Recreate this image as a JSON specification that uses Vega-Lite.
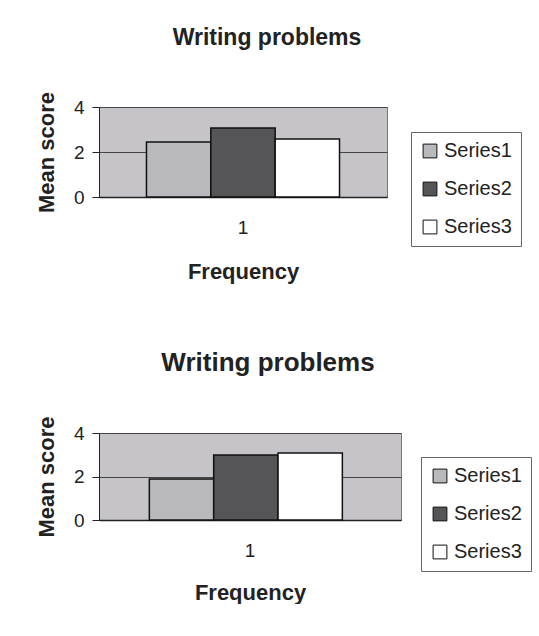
{
  "$schema": "https://vega.github.io/schema/vega-lite/v6.json",
  "padding": {"left": 34, "top": 26, "right": 0, "bottom": 0},
  "spacing": 66,
  "datasets": {
    "top": [
      {"Frequency": "1", "series": "Series1", "score": 2.44},
      {"Frequency": "1", "series": "Series2", "score": 3.07},
      {"Frequency": "1", "series": "Series3", "score": 2.58}
    ],
    "bottom": [
      {"Frequency": "1", "series": "Series1", "score": 1.89},
      {"Frequency": "1", "series": "Series2", "score": 2.99},
      {"Frequency": "1", "series": "Series3", "score": 3.08}
    ]
  },
  "config": {
    "font": "Liberation Sans",
    "view": {"fill": "#c6c4c9", "stroke": "#777777", "strokeWidth": 1},
    "axis": {
      "labelFont": "Liberation Sans",
      "titleFont": "Liberation Sans",
      "labelColor": "#222222",
      "titleColor": "#222222",
      "domainColor": "#222222",
      "tickColor": "#222222",
      "gridColor": "#444444",
      "gridOpacity": 1
    },
    "legend": {
      "labelFont": "Liberation Sans",
      "labelColor": "#222222"
    },
    "title": {"font": "Liberation Sans", "color": "#222222", "fontWeight": "bold"}
  },
  "vconcat": [
    {
      "data": {"name": "top"},
      "width": 288,
      "height": 90,
      "title": {"text": "Writing problems", "fontSize": 23, "offset": 41, "dx": 24},
      "mark": {"type": "bar", "stroke": "#111111", "strokeWidth": 1.5},
      "encoding": {
        "x": {
          "field": "Frequency", "type": "nominal",
          "scale": {"paddingOuter": 0.246, "paddingInner": 0},
          "axis": {"title": "Frequency", "labelAngle": 0, "labelFontSize": 19, "labelPadding": 21, "ticks": false, "domainWidth": 1.5, "titleFontSize": 22, "titlePadding": 24}
        },
        "xOffset": {"field": "series", "type": "nominal", "scale": {"padding": 0}},
        "y": {
          "field": "score", "type": "quantitative",
          "scale": {"domain": [0, 4], "nice": false},
          "axis": {"title": "Mean score", "values": [0, 2, 4], "tickSize": 7, "labelFontSize": 19, "labelPadding": 8, "grid": true, "titleFontSize": 22, "titlePadding": 15}
        },
        "color": {
          "field": "series", "type": "nominal",
          "scale": {"domain": ["Series1", "Series2", "Series3"], "range": ["#b9b8bc", "#555457", "#ffffff"]},
          "legend": {
            "title": null, "orient": "none", "legendX": 312, "legendY": 25,
            "symbolType": "square", "symbolSize": 190, "symbolStrokeColor": "#111111", "symbolStrokeWidth": 1, "symbolOpacity": 1,
            "labelFontSize": 20, "rowPadding": 18, "padding": 9,
            "strokeColor": "#666666", "fillColor": "#ffffff"
          }
        }
      }
    },
    {
      "data": {"name": "bottom"},
      "width": 302,
      "height": 87,
      "title": {"text": "Writing problems", "fontSize": 26, "offset": 40, "dx": 18},
      "mark": {"type": "bar", "stroke": "#111111", "strokeWidth": 1.5},
      "encoding": {
        "x": {
          "field": "Frequency", "type": "nominal",
          "scale": {"paddingOuter": 0.25, "paddingInner": 0},
          "axis": {"title": "Frequency", "labelAngle": 0, "labelFontSize": 19, "labelPadding": 21, "ticks": false, "domainWidth": 1.5, "titleFontSize": 22, "titlePadding": 22}
        },
        "xOffset": {"field": "series", "type": "nominal", "scale": {"padding": 0}},
        "y": {
          "field": "score", "type": "quantitative",
          "scale": {"domain": [0, 4], "nice": false},
          "axis": {"title": "Mean score", "values": [0, 2, 4], "tickSize": 7, "labelFontSize": 19, "labelPadding": 8, "grid": true, "titleFontSize": 22, "titlePadding": 15}
        },
        "color": {
          "field": "series", "type": "nominal",
          "scale": {"domain": ["Series1", "Series2", "Series3"], "range": ["#b9b8bc", "#555457", "#ffffff"]},
          "legend": {
            "title": null, "orient": "none", "legendX": 322, "legendY": 24,
            "symbolType": "square", "symbolSize": 190, "symbolStrokeColor": "#111111", "symbolStrokeWidth": 1, "symbolOpacity": 1,
            "labelFontSize": 20, "rowPadding": 18, "padding": 9,
            "strokeColor": "#666666", "fillColor": "#ffffff"
          }
        }
      }
    }
  ],
  "resolve": {"scale": {"color": "independent"}, "legend": {"color": "independent"}}
}
